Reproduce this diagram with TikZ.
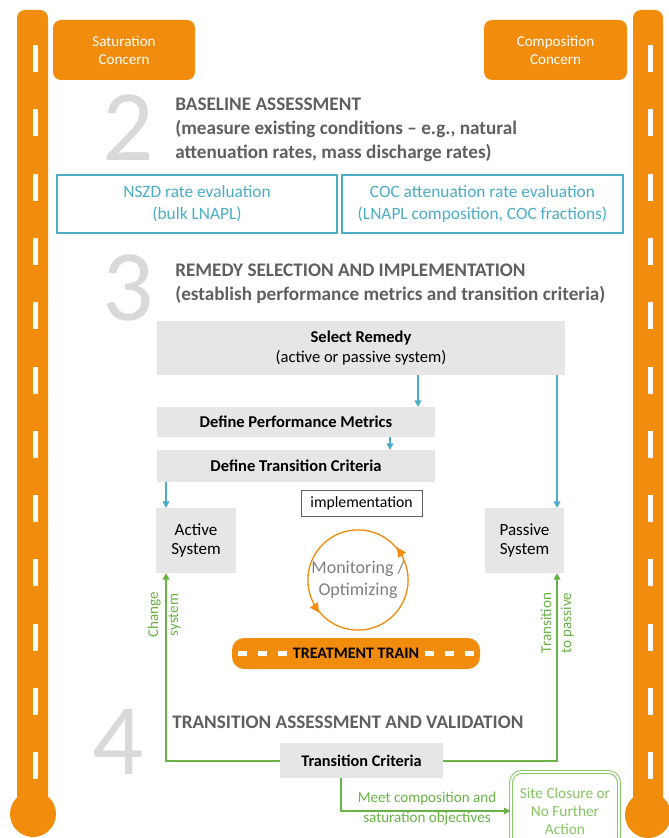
\documentclass[tikz,border=0pt]{standalone}
\usepackage{fontspec}
\setmainfont{Carlito}
\usepackage{xcolor}
\usetikzlibrary{positioning, arrows.meta, fit, shapes}

\definecolor{naranja}{RGB}{242,140,12}
\definecolor{azul}{RGB}{75,172,198}
\definecolor{verde}{RGB}{104,178,70}
\definecolor{verdeclaro}{RGB}{140,200,105}
\definecolor{gristexto}{RGB}{95,95,95}
\definecolor{grisnum}{RGB}{217,217,217}
\definecolor{grisfondo}{RGB}{230,230,230}

\tikzset{
    caja/.style={fill=grisfondo, inner sep=0pt, outer sep=0pt, align=center, text=black},
    cajaazul/.style={draw=azul, line width=1.5pt, inner sep=0pt, outer sep=0pt},
    preocupa/.style={fill=naranja, rounded corners=6pt, inner sep=0pt},
    numero/.style={text=grisnum, font=\fontsize{76}{76}\selectfont},
    titulo/.style={anchor=west, align=left, text=gristexto, inner sep=0pt,
        font=\fontsize{14.4}{18}\selectfont\bfseries},
    flechaazul/.style={draw=azul, line width=1.2pt, -{Triangle[length=5pt,width=5pt]}},
    flechaverde/.style={draw=verde, line width=1.5pt, -{Triangle[length=5pt,width=5pt]}},
    etiqverde/.style={text=verde, align=center, font=\fontsize{11.3}{15}\selectfont}
}

\begin{document}
\begin{tikzpicture}[x=0.75pt, y=-0.75pt]
    \useasboundingbox (0,0) rectangle (668,838);

    % Carriles laterales
    \fill[naranja, rounded corners=6pt] (17,10) rectangle (48,826);
    \fill[naranja] (33,814) circle (23);
    \fill[naranja, rounded corners=6pt] (633,10) rectangle (663,826);
    \fill[naranja] (648,815) circle (23);
    \foreach \k in {0,...,11} {
        \fill[white] (33,{45+64.3*\k}) rectangle ++(5,27);
        \fill[white] (648,{45+64.3*\k}) rectangle ++(5,27);
    }

    % Cajas de arriba
    \node[preocupa, fit={(53,20) (195,80)}] (saturacion) {};
    \node[text=white, align=center, font=\fontsize{11.3}{13.5}\selectfont] at (saturacion.center) {Saturation\\Concern};
    \node[preocupa, fit={(484,20) (627,80)}] (composicion) {};
    \node[text=white, align=center, font=\fontsize{11.3}{13.5}\selectfont] at (composicion.center) {Composition\\Concern};

    % Paso 2
    \node[numero] (dos) at (128,128) {2};
    \node[titulo] (base) at (175,130) {BASELINE ASSESSMENT\\(measure existing conditions -- e.g., natural\\attenuation rates, mass discharge rates)};
    \node[cajaazul, fit={(57,175) (337,233)}] (nszd) {};
    \node[text=azul, align=center, font=\fontsize{13}{16.5}\selectfont] at (nszd.center) {NSZD rate evaluation\\(bulk LNAPL)};
    \node[cajaazul, fit={(342,175) (623,233)}] (coc) {};
    \node[text=azul, align=center, font=\fontsize{13}{16.5}\selectfont] at (coc.center) {COC attenuation rate evaluation\\(LNAPL composition, COC fractions)};

    % Paso 3
    \node[numero] (tres) at (128,288) {3};
    \node[titulo] (remedy) at (175,284) {REMEDY SELECTION AND IMPLEMENTATION\\(establish performance metrics and transition criteria)};
    \node[caja, fit={(157,321) (565,375)}] (remedio) {};
    \node[align=center, font=\fontsize{12.4}{15}\selectfont] at (remedio.center) {\textbf{Select Remedy}\\(active or passive system)};
    \node[caja, fit={(157,407) (435,437)}] (metricas) {};
    \node[font=\fontsize{12.4}{15}\selectfont\bfseries] at (metricas.center) {Define Performance Metrics};
    \node[caja, fit={(157,450) (435,482)}] (criterios) {};
    \node[font=\fontsize{12.4}{15}\selectfont\bfseries] at (criterios.center) {Define Transition Criteria};
    \node[draw=gristexto, line width=0.6pt, fit={(301,490) (422,516)}, inner sep=0pt] (implem) {};
    \node[font=\fontsize{11.8}{15}\selectfont] at (implem.center) {implementation};
    \node[caja, fit={(156,508) (236,573)}] (activo) {};
    \node[align=center, font=\fontsize{12.8}{14.25}\selectfont] at (activo.center) {Active\\System};
    \node[caja, fit={(485,508) (564,573)}] (pasivo) {};
    \node[align=center, font=\fontsize{12.8}{14.25}\selectfont] at (pasivo.center) {Passive\\System};

    % Ciclo de monitoreo
    \node[circle, draw=naranja, line width=1pt, minimum size=75pt, inner sep=0pt, text=gristexto!80,
        align=center, font=\fontsize{13.5}{16.5}\selectfont] (ciclo) at (358,580) {Monitoring /\\Optimizing};
    \draw[naranja, line width=1pt, -{Triangle[length=7pt,width=7pt]}] (ciclo.28) -- (ciclo.40);
    \draw[naranja, line width=1pt, -{Triangle[length=7pt,width=7pt]}] (ciclo.208) -- (ciclo.220);

    % Tren de tratamiento
    \node[fill=naranja, rounded corners=9pt, inner sep=0pt, fit={(232,638) (480,669)}] (tren) {};
    \foreach \xa in {238,258,278,425,445,465} {
        \fill[white] (\xa,651) rectangle ++(9,5);
    }
    \node[font=\fontsize{12}{14}\selectfont\bfseries] at (tren.center) {TREATMENT TRAIN};

    % Paso 4
    \node[numero] (cuatro) at (118,742) {4};
    \node[titulo] (valida) at (172,722) {TRANSITION ASSESSMENT AND VALIDATION};
    \node[caja, fit={(280,743) (443,778)}] (transicion) {};
    \node[font=\fontsize{12.2}{15}\selectfont\bfseries] at (transicion.center) {Transition Criteria};
    \node[draw=verdeclaro, line width=0.8pt, double=white, double distance=1.4pt, rounded corners=8pt,
        inner sep=0pt, fit={(511,772) (619,850)}] (cierre) {};
    \node[text=verdeclaro!80!verde, align=center, font=\fontsize{11.5}{13.5}\selectfont] at (565,811) {Site Closure or\\No Further\\Action};

    % Flechas azules
    \draw[flechaazul] (remedio.south -| 418,0) -- (metricas.north -| 418,0);
    \draw[flechaazul] (remedio.south -| 557,0) -- (pasivo.north -| 557,0);
    \draw[flechaazul] (metricas.south -| 390,0) -- (criterios.north -| 390,0);
    \draw[flechaazul] (criterios.south -| 166,0) -- (activo.north -| 166,0);

    % Flechas verdes
    \draw[flechaverde] (transicion.west) -| (activo.south -| 166,0);
    \draw[flechaverde] (transicion.east) -| (pasivo.south -| 557,0);
    \draw[flechaverde] (transicion.south -| 341,0) |- (cierre.west);
    \node[etiqverde, rotate=90] (cambio) at (164,615) {Change\\system};
    \node[etiqverde, rotate=90] (pasar) at (557,623) {Transition\\to passive};
    \node[etiqverde] (meta) at (427,809) {Meet composition and\\saturation objectives};
\end{tikzpicture}
\end{document}
